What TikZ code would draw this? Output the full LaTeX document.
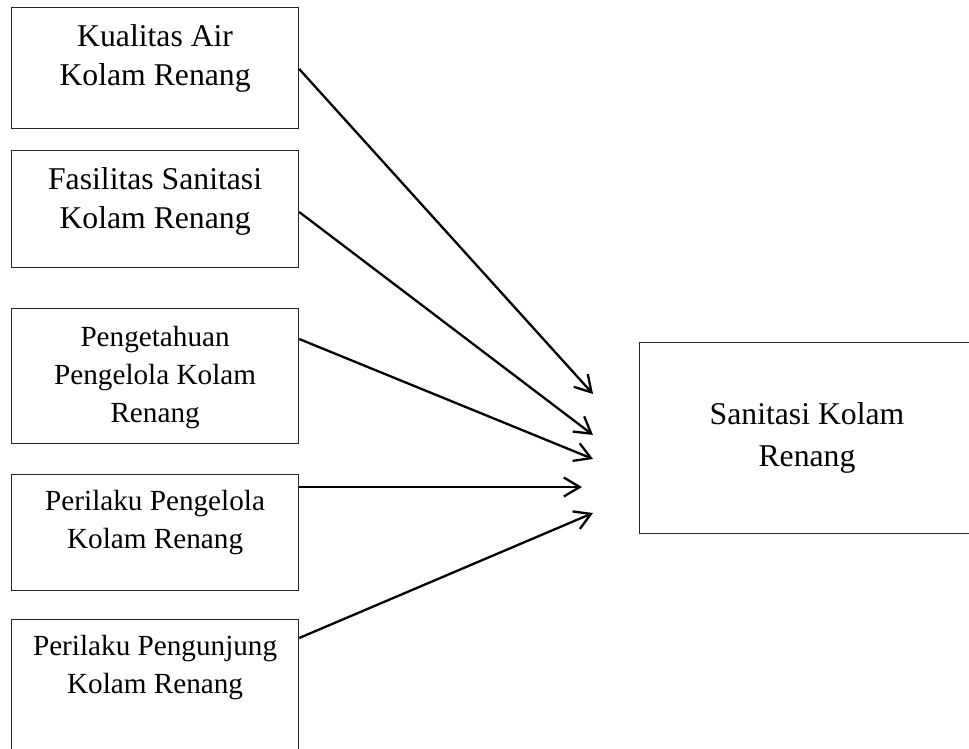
\documentclass[tikz,border=0pt]{standalone}
\usepackage{fontspec}
\setmainfont{Liberation Serif}
\usetikzlibrary{arrows.meta,calc}
\begin{document}
\begin{tikzpicture}[x=1pt,y=-1pt,
  boxnode/.style={draw=black!85,line width=1.2pt,rectangle,inner sep=0pt,anchor=north west},
  bigtext/.style={anchor=north,inner sep=0pt,align=center,font=\fontsize{31.7}{39}\selectfont},
  smalltext/.style={anchor=north,inner sep=0pt,align=center,font=\fontsize{29.2}{38}\selectfont},
  righttext/.style={anchor=north,inner sep=0pt,align=center,font=\fontsize{31.7}{42}\selectfont},
  conn/.style={line width=2.3pt,-{Straight Barb[length=16pt,width=19pt,line width=2.3pt]}}]
\useasboundingbox (0,0) rectangle (969,749);
\clip (0,0) rectangle (969,749);
\fill[white] (0,0) rectangle (969,749);
% left boxes
\node[boxnode,minimum width=287pt,minimum height=121pt] (b1) at (11,7) {};
\node[boxnode,minimum width=287pt,minimum height=117pt] (b2) at (11,150) {};
\node[boxnode,minimum width=287pt,minimum height=135pt] (b3) at (11,308) {};
\node[boxnode,minimum width=287pt,minimum height=116pt] (b4) at (11,474) {};
\node[boxnode,minimum width=287pt,minimum height=160pt] (b5) at (11,619) {};
% right box
\node[boxnode,minimum width=336pt,minimum height=191pt] (r) at (639,342) {};
% texts
\node[bigtext] (t1) at ($(b1.north)+(0,11.7)$) {\strut Kualitas Air\\Kolam Renang};
\node[bigtext] (t2) at ($(b2.north)+(0,11.7)$) {\strut Fasilitas Sanitasi\\Kolam Renang};
\node[smalltext] (t3) at ($(b3.north)+(0,11.4)$) {\strut Pengetahuan\\Pengelola Kolam\\Renang};
\node[smalltext] (t4) at ($(b4.north)+(0,9.4)$) {\strut Perilaku Pengelola\\Kolam Renang};
\node[smalltext] (t5) at ($(b5.north)+(0,9.4)$) {\strut Perilaku Pengunjung\\Kolam Renang};
\node[righttext] (tr) at (807,394.6) {\strut Sanitasi Kolam\\Renang};
% connector ends
\coordinate (s1) at ($(b1.north east)+(0,62)$);
\coordinate (s2) at ($(b2.north east)+(0,62)$);
\coordinate (s3) at ($(b3.north east)+(0,31)$);
\coordinate (s4) at ($(b4.north east)+(0,13)$);
\coordinate (s5) at ($(b5.north east)+(0,19)$);
\coordinate (e1) at (593,394);
\coordinate (e2) at (593,435);
\coordinate (e3) at (593,459);
\coordinate (e4) at (582,487);
\coordinate (e5) at (593,513);
\draw[conn] (s1) -- (e1);
\draw[conn] (s2) -- (e2);
\draw[conn] (s3) -- (e3);
\draw[conn] (s4) -- (e4);
\draw[conn] (s5) -- (e5);
\end{tikzpicture}
\end{document}
